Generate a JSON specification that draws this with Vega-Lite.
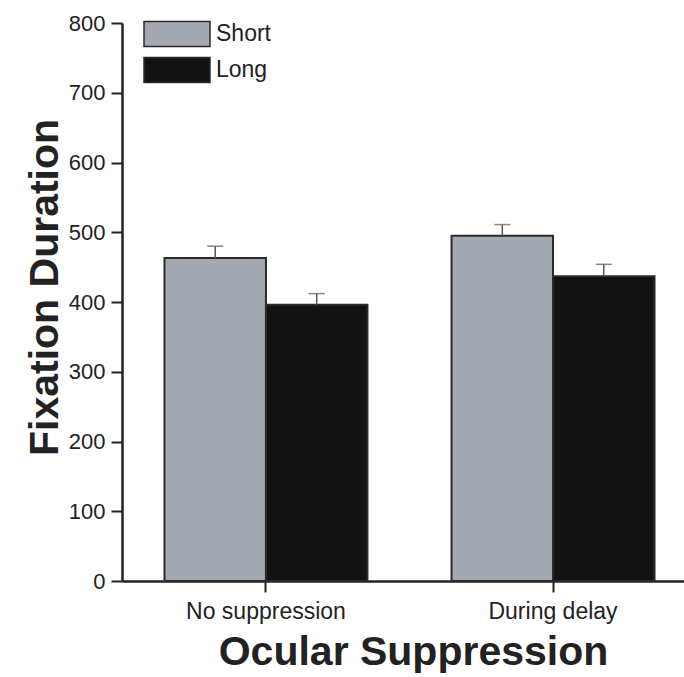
{
  "$schema": "https://vega.github.io/schema/vega-lite/v6.json",
  "autosize": "none",
  "padding": {"left": 122, "top": 23, "right": 0, "bottom": 96},
  "width": 562,
  "height": 558,
  "background": "white",
  "config": {
    "view": {"stroke": null},
    "font": "Liberation Sans"
  },
  "data": {
    "values": [
      {"condition": "No suppression", "delay": "Short", "duration": 463, "upper": 480},
      {"condition": "No suppression", "delay": "Long", "duration": 396, "upper": 412},
      {"condition": "During delay", "delay": "Short", "duration": 495, "upper": 511},
      {"condition": "During delay", "delay": "Long", "duration": 437, "upper": 454}
    ]
  },
  "encoding": {
    "x": {
      "field": "condition",
      "type": "nominal",
      "sort": ["No suppression", "During delay"],
      "scale": {"range": [0, 575], "paddingInner": 0.293, "paddingOuter": 0.148},
      "axis": {
        "title": "Ocular Suppression",
        "titleFont": "Liberation Sans",
        "titleFontSize": 41,
        "titleFontWeight": "bold",
        "titleColor": "#222",
        "titleX": 291,
        "titleY": 83,
        "titleBaseline": "alphabetic",
        "titleAnchor": null,
        "titleAlign": "center",
        "labelAngle": 0,
        "labelFont": "Liberation Sans",
        "labelFontSize": 23,
        "labelColor": "#222",
        "labelPadding": 8,
        "tickSize": 11,
        "tickWidth": 2,
        "tickColor": "#222",
        "domainColor": "#222",
        "domainWidth": 2.5
      }
    },
    "xOffset": {
      "field": "delay",
      "type": "nominal",
      "sort": ["Short", "Long"],
      "scale": {"paddingInner": 0, "paddingOuter": 0}
    }
  },
  "layer": [
    {
      "mark": {"type": "bar", "stroke": "#2b2b2b", "strokeWidth": 2},
      "encoding": {
        "y": {
          "field": "duration",
          "type": "quantitative",
          "scale": {"domain": [0, 800], "nice": false},
          "axis": {
            "title": "Fixation Duration",
            "titleFont": "Liberation Sans",
            "titleFontSize": 41,
            "titleFontWeight": "bold",
            "titleColor": "#222",
            "titleAngle": -90,
            "titleX": -65,
            "titleY": 264,
            "titleBaseline": "alphabetic",
            "titleAlign": "center",
            "values": [0, 100, 200, 300, 400, 500, 600, 700, 800],
            "grid": false,
            "labelFont": "Liberation Sans",
            "labelFontSize": 22,
            "labelColor": "#222",
            "labelPadding": 6,
            "tickSize": 11,
            "tickWidth": 2,
            "tickColor": "#222",
            "domainColor": "#222",
            "domainWidth": 2.5
          }
        },
        "color": {
          "field": "delay",
          "type": "nominal",
          "sort": ["Short", "Long"],
          "scale": {"domain": ["Short", "Long"], "range": ["#a3a8b1", "#121212"]},
          "legend": {
            "title": null,
            "orient": "none",
            "legendX": 41.5,
            "legendY": -2.5,
            "symbolType": "M-2.64,-1H2.64V1H-2.64Z",
            "symbolSize": 625,
            "symbolStrokeColor": "#2b2b2b",
            "symbolStrokeWidth": 1.5,
            "symbolOpacity": 1,
            "labelFont": "Liberation Sans",
            "labelFontSize": 23,
            "labelColor": "#222",
            "labelOffset": 25.5,
            "rowPadding": 5
          }
        }
      }
    },
    {
      "mark": {"type": "rule", "color": "#555", "strokeWidth": 1.5},
      "encoding": {
        "y": {"field": "duration", "type": "quantitative"},
        "y2": {"field": "upper"}
      }
    },
    {
      "mark": {"type": "tick", "color": "#555", "thickness": 1.5, "size": 16, "orient": "horizontal"},
      "encoding": {
        "y": {"field": "upper", "type": "quantitative"}
      }
    }
  ]
}
